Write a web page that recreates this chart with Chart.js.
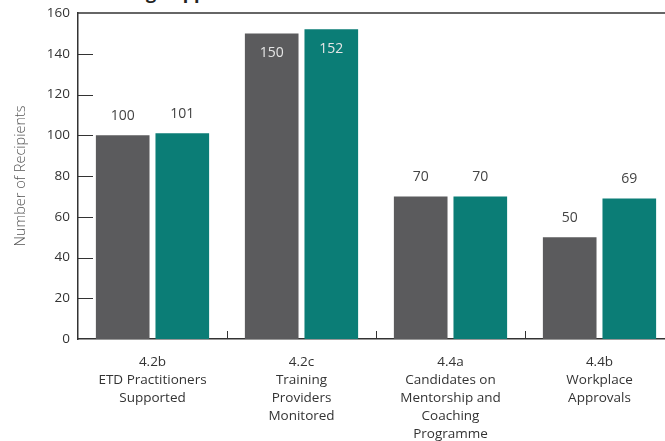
<!DOCTYPE html>
<html>
<head>
<meta charset="utf-8">
<script src="https://cdn.jsdelivr.net/npm/chart.js@4/dist/chart.umd.min.js"></script>
<style>
  html, body { margin: 0; padding: 0; background: #fff; overflow: hidden; }
  #wrap { position: relative; width: 665px; height: 441px; overflow: hidden; }
  #heading { position: absolute; left: 82px; top: -20px; font: bold 18px "Open Sans", sans-serif; color: #222; white-space: nowrap; }
  canvas { position: absolute; left: 0; top: 0; }
</style>
</head>
<body>
<div id="wrap">
  <div id="heading">Training Support</div>
  <canvas id="c" width="678" height="441"></canvas>
</div>
<script>
// Output indicators (each label split over lines)
const categories = [
  ["4.2b", "ETD Practitioners", "Supported"],
  ["4.2c", "Training", "Providers", "Monitored"],
  ["4.4a", "Candidates on", "Mentorship and", "Coaching", "Programme"],
  ["4.4b", "Workplace", "Approvals"]
];
const targetValues = [100, 150, 70, 50];
const actualValues = [101, 152, 70, 69];
const yTickValues = [0, 20, 40, 60, 80, 100, 120, 140, 160];

const FONT = '"Open Sans", "Noto Sans", sans-serif';
const AXIS_COLOR = '#333333';

// Value labels: above each bar, or tucked inside when there is no room above
const valueLabels = {
  id: 'valueLabels',
  afterDatasetsDraw(chart) {
    const ctx = chart.ctx;
    const top = chart.chartArea.top;
    ctx.save();
    ctx.font = '14px ' + FONT;
    ctx.textAlign = 'center';
    ctx.textBaseline = 'middle';
    chart.data.datasets.forEach((ds, di) => {
      chart.getDatasetMeta(di).data.forEach((bar, i) => {
        const v = ds.data[i];
        if (bar.y - 27 < top) {
          ctx.fillStyle = '#e6e6e6';
          ctx.fillText(String(v), bar.x, bar.y + 20);
        } else {
          ctx.fillStyle = '#444444';
          ctx.fillText(String(v), bar.x, bar.y - 19);
        }
      });
    });
    ctx.restore();
  }
};

// Inward tick marks, category separators and the top rule
const axisMarks = {
  id: 'axisMarks',
  afterDraw(chart) {
    const ctx = chart.ctx;
    const {left, right, top, bottom} = chart.chartArea;
    const y = chart.scales.y, x = chart.scales.x;
    ctx.save();
    ctx.strokeStyle = AXIS_COLOR;
    ctx.lineWidth = 1;
    y.ticks.forEach(t => {
      if (t.value <= y.min || t.value >= y.max) return;
      const py = Math.round(y.getPixelForValue(t.value)) + 0.5;
      ctx.beginPath();
      ctx.moveTo(left, py);
      ctx.lineTo(left + 15, py);
      ctx.stroke();
    });
    for (let i = 1; i < categories.length; i++) {
      const px = Math.round((x.getPixelForTick(i - 1) + x.getPixelForTick(i)) / 2) + 0.5;
      ctx.beginPath();
      ctx.moveTo(px, bottom - 8);
      ctx.lineTo(px, bottom);
      ctx.stroke();
    }
    ctx.lineWidth = 1.5;
    ctx.beginPath();
    ctx.moveTo(left, top);
    ctx.lineTo(right, top);
    ctx.stroke();
    ctx.restore();
  }
};

new Chart(document.getElementById('c'), {
  type: 'bar',
  data: {
    labels: categories,
    datasets: [
      { label: 'Target', data: targetValues, backgroundColor: '#5b5b5d', borderWidth: 0,
        categoryPercentage: 0.8, barPercentage: 0.9 },
      { label: 'Actual', data: actualValues, backgroundColor: '#0b7d76', borderWidth: 0,
        categoryPercentage: 0.8, barPercentage: 0.9 }
    ]
  },
  options: {
    responsive: false,
    animation: false,
    layout: { padding: { top: 13, right: 4, left: 0, bottom: 0 } },
    plugins: { legend: { display: false }, tooltip: { enabled: false } },
    scales: {
      x: {
        grid: { display: false, drawTicks: false },
        border: { display: true, color: AXIS_COLOR, width: 1.5 },
        ticks: {
          color: '#333333',
          font: { family: FONT, size: 13.5, lineHeight: 1.33 },
          padding: 14,
          maxRotation: 0,
          autoSkip: false
        },
        afterFit(scale) { scale.height = 102; }
      },
      y: {
        min: 0,
        max: 160,
        afterBuildTicks(scale) { scale.ticks = yTickValues.map(v => ({ value: v })); },
        grid: { display: false, drawTicks: false },
        border: { display: true, color: AXIS_COLOR, width: 1.5 },
        ticks: { color: '#333333', font: { family: FONT, size: 13.5 }, padding: 8 },
        title: {
          display: true,
          text: 'Number of Recipients',
          color: '#555555',
          font: { family: FONT, size: 14.5, weight: 300 },
          padding: { top: 12, bottom: 0 }
        },
        afterFit(scale) {
          scale.width = 78;
          scale.paddingTop = 0;
          scale.paddingBottom = 0;
        }
      }
    }
  },
  plugins: [valueLabels, axisMarks]
});
</script>
</body>
</html>
